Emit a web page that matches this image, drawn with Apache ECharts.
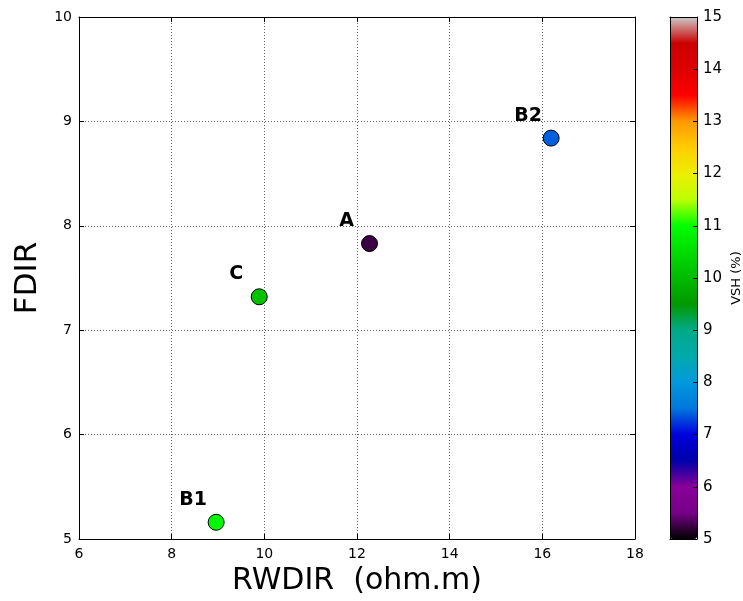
<!DOCTYPE html>
<html>
<head>
<meta charset="utf-8">
<script src="https://cdn.jsdelivr.net/npm/echarts@6/dist/echarts.min.js"></script>
<style>
  html, body { margin: 0; padding: 0; background: #fff; }
  #chart { width: 743px; height: 601px; }
</style>
</head>
<body>
<div id="chart"></div>
<script>
// Well names, resistivity (x), FDIR (y) and shale volume (colour)
const wells = ['A', 'B2', 'C', 'B1'];
const rwdir = [12.27, 16.19, 9.89, 8.96];
const fdir = [7.83, 8.84, 7.32, 5.16];
const vsh = [5.25, 7.4, 10.1, 10.9];

// nipy_spectral colour stops, evenly spaced from 0 to 1
const spectral = [
  '#000000', '#770088', '#880099', '#0000aa', '#0000dd', '#0077dd', '#0099dd',
  '#00aaaa', '#00aa88', '#009900', '#00bb00', '#00dd00', '#00ff00', '#bbff00',
  '#eeee00', '#ffcc00', '#ff9900', '#ff0000', '#dd0000', '#cc0000', '#cccccc'
];

const points = wells.map((name, i) => ({ name, value: [rwdir[i], fdir[i], vsh[i]] }));

const FONT = 'DejaVu Sans';
const tickLabel = { fontFamily: FONT, fontSize: 14, color: '#000' };
const dotted = { show: true, lineStyle: { color: '#666', type: [1, 2], width: 1 } };
const inTicks = { show: true, inside: true, length: 5, lineStyle: { color: '#000' } };
const blackLine = { show: true, onZero: false, lineStyle: { color: '#000', width: 1 } };

const chart = echarts.init(document.getElementById('chart'));
chart.setOption({
  animation: false,
  backgroundColor: '#fff',
  grid: [
    { left: 79, top: 17, width: 556, height: 522, outerBoundsMode: 'none', containLabel: false },
    { left: 670, top: 17, width: 27, height: 522, outerBoundsMode: 'none', containLabel: false }
  ],
  xAxis: [
    {
      gridIndex: 0, type: 'value', min: 6, max: 18, interval: 2, position: 'bottom',
      name: 'RWDIR  (ohm.m)', nameLocation: 'middle', nameGap: 27,
      nameTextStyle: { fontFamily: FONT, fontSize: 30, color: '#000', verticalAlign: 'top' },
      axisLine: blackLine, axisTick: inTicks, splitLine: dotted,
      axisLabel: Object.assign({ margin: 8 }, tickLabel)
    },
    {
      gridIndex: 0, type: 'value', min: 6, max: 18, interval: 2, position: 'top',
      axisLine: blackLine, axisTick: inTicks, axisLabel: { show: false }, splitLine: { show: false }
    },
    {
      gridIndex: 1, type: 'value', min: 0, max: 1, position: 'bottom', z: 10,
      axisLine: blackLine, axisTick: { show: false }, axisLabel: { show: false }, splitLine: { show: false }
    },
    {
      gridIndex: 1, type: 'value', min: 0, max: 1, position: 'top', z: 10,
      axisLine: blackLine, axisTick: { show: false }, axisLabel: { show: false }, splitLine: { show: false }
    }
  ],
  yAxis: [
    {
      gridIndex: 0, type: 'value', min: 5, max: 10, interval: 1, position: 'left',
      name: 'FDIR', nameLocation: 'middle', nameGap: 36, nameRotate: 90,
      nameTextStyle: { fontFamily: FONT, fontSize: 31, color: '#000' },
      axisLine: blackLine, axisTick: inTicks, splitLine: dotted,
      axisLabel: Object.assign({ margin: 7 }, tickLabel)
    },
    {
      gridIndex: 0, type: 'value', min: 5, max: 10, interval: 1, position: 'right',
      axisLine: blackLine, axisTick: inTicks, axisLabel: { show: false }, splitLine: { show: false }
    },
    {
      gridIndex: 1, type: 'value', min: 5, max: 15, interval: 1, position: 'right', z: 10,
      name: 'VSH (%)', nameLocation: 'middle', nameGap: 33, nameRotate: 90,
      nameTextStyle: { fontFamily: FONT, fontSize: 13, color: '#000' },
      axisLine: blackLine, axisTick: { show: true, inside: true, length: 4, lineStyle: { color: '#000' } },
      splitLine: { show: false },
      axisLabel: { fontFamily: FONT, fontSize: 15, color: '#000', margin: 6 }
    },
    {
      gridIndex: 1, type: 'value', min: 5, max: 15, position: 'left', z: 10,
      axisLine: blackLine, axisTick: { show: false }, axisLabel: { show: false }, splitLine: { show: false }
    }
  ],
  visualMap: {
    type: 'continuous', min: 5, max: 15, dimension: 2, seriesIndex: 0,
    calculable: false, hoverLink: false, text: null, showLabel: false,
    left: 670, top: 17, itemWidth: 27, itemHeight: 522, padding: 0, z: 2,
    inRange: { color: spectral }
  },
  series: [{
    type: 'scatter',
    xAxisIndex: 0, yAxisIndex: 0,
    symbol: 'circle', symbolSize: 16,
    itemStyle: { borderColor: '#000', borderWidth: 1, opacity: 1 },
    label: {
      show: true, position: 'inside', offset: [-23, -22.5],
      formatter: p => p.name,
      fontFamily: FONT, fontWeight: 'bold', fontSize: 19, color: '#000'
    },
    data: points
  }]
});
</script>
</body>
</html>
